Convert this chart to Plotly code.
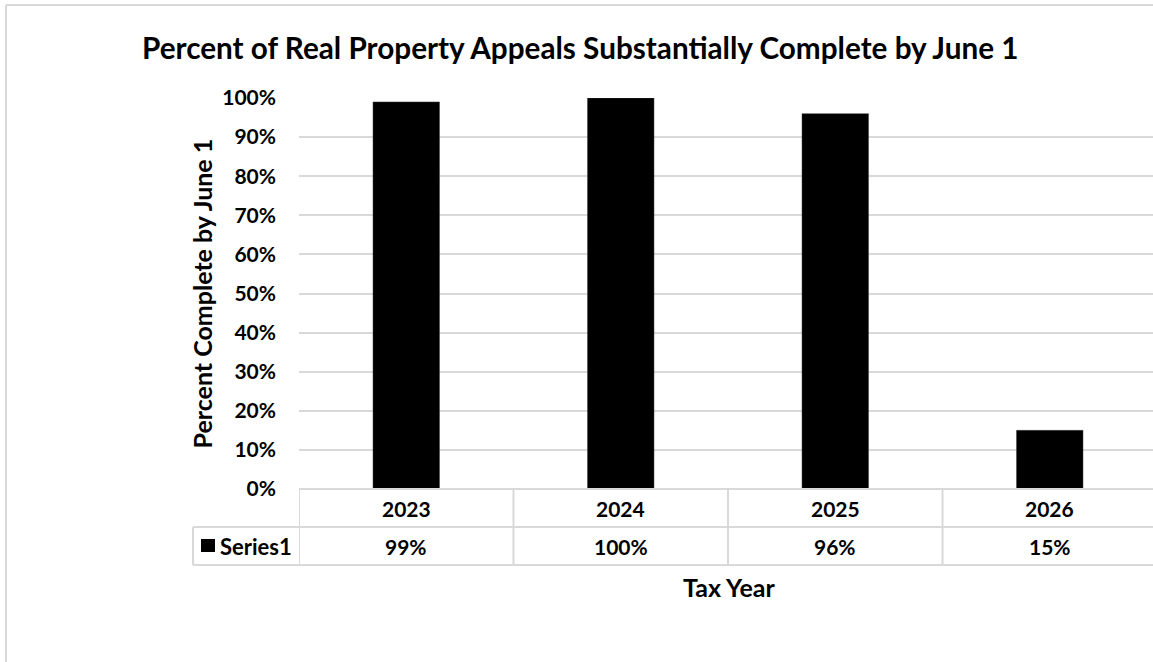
import plotly.graph_objects as go

title_text = "Percent of Real Property Appeals Substantially Complete by June 1"
categories = ["2023", "2024", "2025", "2026"]
values = [99, 100, 96, 15]
value_labels = ["99%", "100%", "96%", "15%"]
series_name = "Series1"
y_ticks = [0, 10, 20, 30, 40, 50, 60, 70, 80, 90, 100]
y_tick_labels = ["0%", "10%", "20%", "30%", "40%", "50%", "60%", "70%", "80%", "90%", "100%"]
x_title = "Tax Year"
y_title = "Percent Complete by June 1"

W, H = 1153, 662
PL, PR, PT, PB = 299, 1157, 98, 489  # plot area on screen
L, T, R = PL, PT, 0
B = H - PB
PW = W - L - R
PH = H - T - B
FONT = "Lato"
GRID = "#d9d9d9"
TXT = "#000000"
cat_w = (PR - PL) / len(categories)
x_max = -0.5 + (W - PL) / cat_w

def py(pix):
    return (H - B - pix) / PH

def px(pix):
    return (pix - L) / PW

fig = go.Figure()
fig.add_trace(go.Bar(
    x=list(range(len(categories))), y=values, name=series_name,
    marker=dict(color="#000000", line=dict(color="#404040", width=0.5)),
    width=0.31, showlegend=False, hoverinfo="skip",
))

shapes = []
row1_top, row1_bot, row2_bot = 489, 527, 565
lw = dict(color=GRID, width=2)
shapes.append(dict(type="line", xref="paper", yref="paper", x0=0, x1=1, y0=py(row1_top), y1=py(row1_top), line=lw))
shapes.append(dict(type="line", xref="paper", yref="paper", x0=px(193), x1=1, y0=py(row1_bot), y1=py(row1_bot), line=lw))
shapes.append(dict(type="line", xref="paper", yref="paper", x0=px(193), x1=1, y0=py(row2_bot), y1=py(row2_bot), line=lw))
for i in range(len(categories)):
    shapes.append(dict(type="line", xref="x", yref="paper", x0=i - 0.5, x1=i - 0.5, y0=py(row1_top), y1=py(row2_bot), line=lw))
shapes.append(dict(type="line", xref="paper", yref="paper", x0=px(193), x1=px(193), y0=py(row1_bot), y1=py(row2_bot), line=lw))
shapes.append(dict(type="rect", xref="paper", yref="paper", x0=px(201), x1=px(215), y0=py(552), y1=py(539),
                   fillcolor="#000000", line=dict(width=0)))
# outer chart border (left and top edges visible)
shapes.append(dict(type="line", xref="paper", yref="paper", x0=px(6), x1=px(6), y0=py(5), y1=py(H), line=lw))
shapes.append(dict(type="line", xref="paper", yref="paper", x0=px(6), x1=1, y0=py(5), y1=py(5), line=lw))

DIG = 21
LET = 25
annotations = []
for i, (c, v) in enumerate(zip(categories, value_labels)):
    annotations.append(dict(x=i, y=py((row1_top + row1_bot) / 2), xref="x", yref="paper", text=c, showarrow=False,
                            font=dict(family=FONT, size=DIG, color=TXT, weight="bold"), xanchor="center", yanchor="middle"))
    annotations.append(dict(x=i, y=py((row1_bot + row2_bot) / 2), xref="x", yref="paper", text=v, showarrow=False,
                            font=dict(family=FONT, size=DIG, color=TXT, weight="bold"), xanchor="center", yanchor="middle"))
annotations.append(dict(x=px(218), y=py((row1_bot + row2_bot) / 2), xref="paper", yref="paper",
                        text=series_name, showarrow=False,
                        font=dict(family=FONT, size=22, color=TXT, weight="bold"), xanchor="left", yanchor="middle"))
annotations.append(dict(x=px(728.5), y=py(587), xref="paper", yref="paper", text=x_title, showarrow=False,
                        font=dict(family=FONT, size=LET, color=TXT, weight="bold"), xanchor="center", yanchor="middle"))
annotations.append(dict(x=px(201), y=py(293.5), xref="paper", yref="paper", text=y_title, showarrow=False, textangle=-90,
                        font=dict(family=FONT, size=LET, color=TXT, weight="bold"), xanchor="center", yanchor="middle"))
annotations.append(dict(x=px(580), y=py(47), xref="paper", yref="paper", text=title_text, showarrow=False,
                        font=dict(family=FONT, size=29.7, color=TXT, weight="bold"), xanchor="center", yanchor="middle"))

fig.update_layout(
    width=W, height=H,
    margin=dict(l=L, r=R, t=T, b=B, autoexpand=False),
    paper_bgcolor="white", plot_bgcolor="white",
    shapes=shapes, annotations=annotations,
    xaxis=dict(range=[-0.5, x_max], showticklabels=False, showgrid=False, zeroline=False, showline=False, ticks="", fixedrange=True),
    yaxis=dict(range=[0, 100], tickvals=y_ticks, ticktext=y_tick_labels, showgrid=True, gridcolor=GRID, gridwidth=2,
               zeroline=False, showline=False, ticks="", ticklabelstandoff=22,
               tickfont=dict(family=FONT, size=DIG, color=TXT, weight="bold"), fixedrange=True),
)

fig.write_html(
    "out.html", config={"displayModeBar": False},
    post_script=(
        "document.documentElement.style.overflow='hidden';"
        "document.body.style.margin='0';"
        "document.body.style.overflow='hidden';"
    ),
)
